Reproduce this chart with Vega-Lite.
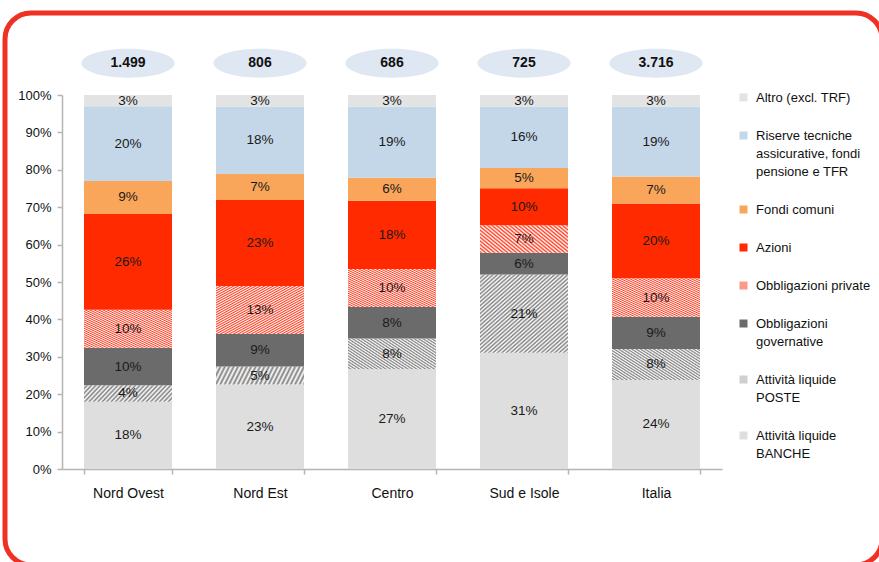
{
  "$schema": "https://vega.github.io/schema/vega-lite/v6.json",
  "autosize": "none",
  "width": 877,
  "height": 552,
  "padding": {"left": 5, "top": 13, "right": 0, "bottom": 0},
  "background": "#ffffff",
  "config": {
    "font": "Liberation Sans",
    "view": {"stroke": "#ee3124", "strokeWidth": 5, "cornerRadius": 26, "fill": null}
  },
  "datasets": {
    "shares": [
      {"region": "Nord Ovest", "cat": "Attività liquide BANCHE", "ord": 1, "value": 0.180},
      {"region": "Nord Ovest", "cat": "Attività liquide POSTE", "ord": 2, "value": 0.044},
      {"region": "Nord Ovest", "cat": "Obbligazioni governative", "ord": 3, "value": 0.100},
      {"region": "Nord Ovest", "cat": "Obbligazioni private", "ord": 4, "value": 0.102},
      {"region": "Nord Ovest", "cat": "Azioni", "ord": 5, "value": 0.256},
      {"region": "Nord Ovest", "cat": "Fondi comuni", "ord": 6, "value": 0.088},
      {"region": "Nord Ovest", "cat": "Riserve tecniche assicurative, fondi pensione e TFR", "ord": 7, "value": 0.200},
      {"region": "Nord Ovest", "cat": "Altro (excl. TRF)", "ord": 8, "value": 0.030},
      {"region": "Nord Est", "cat": "Attività liquide BANCHE", "ord": 1, "value": 0.226},
      {"region": "Nord Est", "cat": "Attività liquide POSTE", "ord": 2, "value": 0.048},
      {"region": "Nord Est", "cat": "Obbligazioni governative", "ord": 3, "value": 0.087},
      {"region": "Nord Est", "cat": "Obbligazioni private", "ord": 4, "value": 0.128},
      {"region": "Nord Est", "cat": "Azioni", "ord": 5, "value": 0.230},
      {"region": "Nord Est", "cat": "Fondi comuni", "ord": 6, "value": 0.070},
      {"region": "Nord Est", "cat": "Riserve tecniche assicurative, fondi pensione e TFR", "ord": 7, "value": 0.180},
      {"region": "Nord Est", "cat": "Altro (excl. TRF)", "ord": 8, "value": 0.031},
      {"region": "Centro", "cat": "Attività liquide BANCHE", "ord": 1, "value": 0.267},
      {"region": "Centro", "cat": "Attività liquide POSTE", "ord": 2, "value": 0.082},
      {"region": "Centro", "cat": "Obbligazioni governative", "ord": 3, "value": 0.084},
      {"region": "Centro", "cat": "Obbligazioni private", "ord": 4, "value": 0.102},
      {"region": "Centro", "cat": "Azioni", "ord": 5, "value": 0.182},
      {"region": "Centro", "cat": "Fondi comuni", "ord": 6, "value": 0.062},
      {"region": "Centro", "cat": "Riserve tecniche assicurative, fondi pensione e TFR", "ord": 7, "value": 0.190},
      {"region": "Centro", "cat": "Altro (excl. TRF)", "ord": 8, "value": 0.031},
      {"region": "Sud e Isole", "cat": "Attività liquide BANCHE", "ord": 1, "value": 0.311},
      {"region": "Sud e Isole", "cat": "Attività liquide POSTE", "ord": 2, "value": 0.209},
      {"region": "Sud e Isole", "cat": "Obbligazioni governative", "ord": 3, "value": 0.058},
      {"region": "Sud e Isole", "cat": "Obbligazioni private", "ord": 4, "value": 0.074},
      {"region": "Sud e Isole", "cat": "Azioni", "ord": 5, "value": 0.099},
      {"region": "Sud e Isole", "cat": "Fondi comuni", "ord": 6, "value": 0.054},
      {"region": "Sud e Isole", "cat": "Riserve tecniche assicurative, fondi pensione e TFR", "ord": 7, "value": 0.164},
      {"region": "Sud e Isole", "cat": "Altro (excl. TRF)", "ord": 8, "value": 0.031},
      {"region": "Italia", "cat": "Attività liquide BANCHE", "ord": 1, "value": 0.238},
      {"region": "Italia", "cat": "Attività liquide POSTE", "ord": 2, "value": 0.083},
      {"region": "Italia", "cat": "Obbligazioni governative", "ord": 3, "value": 0.086},
      {"region": "Italia", "cat": "Obbligazioni private", "ord": 4, "value": 0.103},
      {"region": "Italia", "cat": "Azioni", "ord": 5, "value": 0.200},
      {"region": "Italia", "cat": "Fondi comuni", "ord": 6, "value": 0.072},
      {"region": "Italia", "cat": "Riserve tecniche assicurative, fondi pensione e TFR", "ord": 7, "value": 0.187},
      {"region": "Italia", "cat": "Altro (excl. TRF)", "ord": 8, "value": 0.031}
    ],
    "totals": [
      {"region": "Nord Ovest", "total": "1.499"},
      {"region": "Nord Est", "total": "806"},
      {"region": "Centro", "total": "686"},
      {"region": "Sud e Isole", "total": "725"},
      {"region": "Italia", "total": "3.716"}
    ]
  },
  "layer": [
    {
      "data": {"name": "shares"},
      "mark": {"type": "bar", "strokeWidth": 0},
      "encoding": {
        "x": {
          "field": "region", "type": "nominal", "sort": null,
          "scale": {"domain": ["Nord Ovest", "Nord Est", "Centro", "Sud e Isole", "Italia"], "range": [57, 717], "paddingInner": 0.3333, "paddingOuter": 0.1667},
          "axis": {"orient": "bottom", "offset": -96, "title": null, "labelAngle": 0, "tickBand": "extent", "labelFontSize": 14, "labelColor": "#111111", "labelPadding": 12, "domainColor": "#b4b4b4", "domainWidth": 1.5, "tickColor": "#b4b4b4", "tickSize": 5, "tickWidth": 1.5}
        },
        "y": {
          "field": "value", "type": "quantitative", "stack": "zero",
          "scale": {"domain": [0, 1], "range": [456, 82], "nice": false, "zero": true},
          "axis": {"orient": "left", "offset": -57, "title": null, "grid": false, "values": [0, 0.1, 0.2, 0.3, 0.4, 0.5, 0.6, 0.7, 0.8, 0.9, 1], "format": ".0%", "labelFontSize": 13, "labelColor": "#111111", "labelPadding": 6, "domainColor": "#b4b4b4", "domainWidth": 1.5, "tickColor": "#b4b4b4", "tickSize": 5, "tickWidth": 1.5}
        },
        "order": {"field": "ord", "type": "quantitative", "sort": "ascending"},
        "color": {
          "field": "cat", "type": "nominal",
          "scale": {
            "domain": ["Altro (excl. TRF)", "Riserve tecniche assicurative, fondi pensione e TFR", "Fondi comuni", "Azioni", "Obbligazioni private", "Obbligazioni governative", "Attività liquide POSTE", "Attività liquide BANCHE"],
            "range": ["#e3e3e3", "#c4d7e8", "#f9a65a", "#ff2a00", "#fb9a88", "#6b6b6b", "#cfcfcf", "#dedede"]
          },
          "legend": {
            "orient": "none", "legendX": 732, "legendY": 78, "title": null,
            "symbolType": "square", "symbolSize": 64, "symbolStrokeWidth": 0,
            "labelFontSize": 13, "labelColor": "#111111", "labelLimit": 200, "labelOffset": 6,
            "rowPadding": 24,
            "encode": {"labels": {"update": {"lineHeight": {"value": 18}}}},
            "labelExpr": "datum.label == 'Riserve tecniche assicurative, fondi pensione e TFR' ? ['Riserve tecniche', 'assicurative, fondi', 'pensione e TFR'] : datum.label == 'Obbligazioni governative' ? ['Obbligazioni', 'governative'] : datum.label == 'Attività liquide POSTE' ? ['Attività liquide', 'POSTE'] : datum.label == 'Attività liquide BANCHE' ? ['Attività liquide', 'BANCHE'] : datum.label"
          },
          "condition": [
            {"test": "datum.cat === 'Obbligazioni private'", "value": {"gradient": "linear", "x1": 0, "y1": 0, "x2": 1, "y2": 1, "stops": [
              {"offset": 0, "color": "#ff3b1f"}, {"offset": 0.0125, "color": "#ffffff"}, {"offset": 0.025, "color": "#ff3b1f"}, {"offset": 0.0375, "color": "#ffffff"},
              {"offset": 0.05, "color": "#ff3b1f"}, {"offset": 0.0625, "color": "#ffffff"}, {"offset": 0.075, "color": "#ff3b1f"}, {"offset": 0.0875, "color": "#ffffff"},
              {"offset": 0.1, "color": "#ff3b1f"}, {"offset": 0.1125, "color": "#ffffff"}, {"offset": 0.125, "color": "#ff3b1f"}, {"offset": 0.1375, "color": "#ffffff"},
              {"offset": 0.15, "color": "#ff3b1f"}, {"offset": 0.1625, "color": "#ffffff"}, {"offset": 0.175, "color": "#ff3b1f"}, {"offset": 0.1875, "color": "#ffffff"},
              {"offset": 0.2, "color": "#ff3b1f"}, {"offset": 0.2125, "color": "#ffffff"}, {"offset": 0.225, "color": "#ff3b1f"}, {"offset": 0.2375, "color": "#ffffff"},
              {"offset": 0.25, "color": "#ff3b1f"}, {"offset": 0.2625, "color": "#ffffff"}, {"offset": 0.275, "color": "#ff3b1f"}, {"offset": 0.2875, "color": "#ffffff"},
              {"offset": 0.3, "color": "#ff3b1f"}, {"offset": 0.3125, "color": "#ffffff"}, {"offset": 0.325, "color": "#ff3b1f"}, {"offset": 0.3375, "color": "#ffffff"},
              {"offset": 0.35, "color": "#ff3b1f"}, {"offset": 0.3625, "color": "#ffffff"}, {"offset": 0.375, "color": "#ff3b1f"}, {"offset": 0.3875, "color": "#ffffff"},
              {"offset": 0.4, "color": "#ff3b1f"}, {"offset": 0.4125, "color": "#ffffff"}, {"offset": 0.425, "color": "#ff3b1f"}, {"offset": 0.4375, "color": "#ffffff"},
              {"offset": 0.45, "color": "#ff3b1f"}, {"offset": 0.4625, "color": "#ffffff"}, {"offset": 0.475, "color": "#ff3b1f"}, {"offset": 0.4875, "color": "#ffffff"},
              {"offset": 0.5, "color": "#ff3b1f"}, {"offset": 0.5125, "color": "#ffffff"}, {"offset": 0.525, "color": "#ff3b1f"}, {"offset": 0.5375, "color": "#ffffff"},
              {"offset": 0.55, "color": "#ff3b1f"}, {"offset": 0.5625, "color": "#ffffff"}, {"offset": 0.575, "color": "#ff3b1f"}, {"offset": 0.5875, "color": "#ffffff"},
              {"offset": 0.6, "color": "#ff3b1f"}, {"offset": 0.6125, "color": "#ffffff"}, {"offset": 0.625, "color": "#ff3b1f"}, {"offset": 0.6375, "color": "#ffffff"},
              {"offset": 0.65, "color": "#ff3b1f"}, {"offset": 0.6625, "color": "#ffffff"}, {"offset": 0.675, "color": "#ff3b1f"}, {"offset": 0.6875, "color": "#ffffff"},
              {"offset": 0.7, "color": "#ff3b1f"}, {"offset": 0.7125, "color": "#ffffff"}, {"offset": 0.725, "color": "#ff3b1f"}, {"offset": 0.7375, "color": "#ffffff"},
              {"offset": 0.75, "color": "#ff3b1f"}, {"offset": 0.7625, "color": "#ffffff"}, {"offset": 0.775, "color": "#ff3b1f"}, {"offset": 0.7875, "color": "#ffffff"},
              {"offset": 0.8, "color": "#ff3b1f"}, {"offset": 0.8125, "color": "#ffffff"}, {"offset": 0.825, "color": "#ff3b1f"}, {"offset": 0.8375, "color": "#ffffff"},
              {"offset": 0.85, "color": "#ff3b1f"}, {"offset": 0.8625, "color": "#ffffff"}, {"offset": 0.875, "color": "#ff3b1f"}, {"offset": 0.8875, "color": "#ffffff"},
              {"offset": 0.9, "color": "#ff3b1f"}, {"offset": 0.9125, "color": "#ffffff"}, {"offset": 0.925, "color": "#ff3b1f"}, {"offset": 0.9375, "color": "#ffffff"},
              {"offset": 0.95, "color": "#ff3b1f"}, {"offset": 0.9625, "color": "#ffffff"}, {"offset": 0.975, "color": "#ff3b1f"}, {"offset": 0.9875, "color": "#ffffff"},
              {"offset": 1, "color": "#ff3b1f"}
            ]}},
            {"test": "datum.cat === 'Attività liquide POSTE'", "value": {"gradient": "linear", "x1": 0, "y1": 0, "x2": 1, "y2": 1, "stops": [
              {"offset": 0, "color": "#808080"}, {"offset": 0.0125, "color": "#ffffff"}, {"offset": 0.025, "color": "#808080"}, {"offset": 0.0375, "color": "#ffffff"},
              {"offset": 0.05, "color": "#808080"}, {"offset": 0.0625, "color": "#ffffff"}, {"offset": 0.075, "color": "#808080"}, {"offset": 0.0875, "color": "#ffffff"},
              {"offset": 0.1, "color": "#808080"}, {"offset": 0.1125, "color": "#ffffff"}, {"offset": 0.125, "color": "#808080"}, {"offset": 0.1375, "color": "#ffffff"},
              {"offset": 0.15, "color": "#808080"}, {"offset": 0.1625, "color": "#ffffff"}, {"offset": 0.175, "color": "#808080"}, {"offset": 0.1875, "color": "#ffffff"},
              {"offset": 0.2, "color": "#808080"}, {"offset": 0.2125, "color": "#ffffff"}, {"offset": 0.225, "color": "#808080"}, {"offset": 0.2375, "color": "#ffffff"},
              {"offset": 0.25, "color": "#808080"}, {"offset": 0.2625, "color": "#ffffff"}, {"offset": 0.275, "color": "#808080"}, {"offset": 0.2875, "color": "#ffffff"},
              {"offset": 0.3, "color": "#808080"}, {"offset": 0.3125, "color": "#ffffff"}, {"offset": 0.325, "color": "#808080"}, {"offset": 0.3375, "color": "#ffffff"},
              {"offset": 0.35, "color": "#808080"}, {"offset": 0.3625, "color": "#ffffff"}, {"offset": 0.375, "color": "#808080"}, {"offset": 0.3875, "color": "#ffffff"},
              {"offset": 0.4, "color": "#808080"}, {"offset": 0.4125, "color": "#ffffff"}, {"offset": 0.425, "color": "#808080"}, {"offset": 0.4375, "color": "#ffffff"},
              {"offset": 0.45, "color": "#808080"}, {"offset": 0.4625, "color": "#ffffff"}, {"offset": 0.475, "color": "#808080"}, {"offset": 0.4875, "color": "#ffffff"},
              {"offset": 0.5, "color": "#808080"}, {"offset": 0.5125, "color": "#ffffff"}, {"offset": 0.525, "color": "#808080"}, {"offset": 0.5375, "color": "#ffffff"},
              {"offset": 0.55, "color": "#808080"}, {"offset": 0.5625, "color": "#ffffff"}, {"offset": 0.575, "color": "#808080"}, {"offset": 0.5875, "color": "#ffffff"},
              {"offset": 0.6, "color": "#808080"}, {"offset": 0.6125, "color": "#ffffff"}, {"offset": 0.625, "color": "#808080"}, {"offset": 0.6375, "color": "#ffffff"},
              {"offset": 0.65, "color": "#808080"}, {"offset": 0.6625, "color": "#ffffff"}, {"offset": 0.675, "color": "#808080"}, {"offset": 0.6875, "color": "#ffffff"},
              {"offset": 0.7, "color": "#808080"}, {"offset": 0.7125, "color": "#ffffff"}, {"offset": 0.725, "color": "#808080"}, {"offset": 0.7375, "color": "#ffffff"},
              {"offset": 0.75, "color": "#808080"}, {"offset": 0.7625, "color": "#ffffff"}, {"offset": 0.775, "color": "#808080"}, {"offset": 0.7875, "color": "#ffffff"},
              {"offset": 0.8, "color": "#808080"}, {"offset": 0.8125, "color": "#ffffff"}, {"offset": 0.825, "color": "#808080"}, {"offset": 0.8375, "color": "#ffffff"},
              {"offset": 0.85, "color": "#808080"}, {"offset": 0.8625, "color": "#ffffff"}, {"offset": 0.875, "color": "#808080"}, {"offset": 0.8875, "color": "#ffffff"},
              {"offset": 0.9, "color": "#808080"}, {"offset": 0.9125, "color": "#ffffff"}, {"offset": 0.925, "color": "#808080"}, {"offset": 0.9375, "color": "#ffffff"},
              {"offset": 0.95, "color": "#808080"}, {"offset": 0.9625, "color": "#ffffff"}, {"offset": 0.975, "color": "#808080"}, {"offset": 0.9875, "color": "#ffffff"},
              {"offset": 1, "color": "#808080"}
            ]}}
          ]
        }
      }
    },
    {
      "data": {"name": "shares"},
      "mark": {"type": "text", "fontSize": 13.5, "color": "#1a1a1a", "baseline": "middle", "align": "center"},
      "encoding": {
        "x": {"field": "region", "type": "nominal", "sort": null, "scale": {"domain": ["Nord Ovest", "Nord Est", "Centro", "Sud e Isole", "Italia"], "range": [57, 717], "paddingInner": 0.3333, "paddingOuter": 0.1667}},
        "y": {"field": "value", "type": "quantitative", "stack": "zero", "bandPosition": 0.5, "scale": {"domain": [0, 1], "range": [456, 82], "nice": false, "zero": true}},
        "order": {"field": "ord", "type": "quantitative", "sort": "ascending"},
        "detail": {"field": "cat", "type": "nominal"},
        "text": {"field": "value", "type": "quantitative", "format": ".0%"}
      }
    },
    {
      "data": {"name": "totals"},
      "mark": {"type": "point", "filled": true, "shape": "M-1,0A1,0.31,0,1,1,1,0A1,0.31,0,1,1,-1,0Z", "size": 8650, "color": "#dfe7f2", "opacity": 1, "strokeWidth": 0},
      "encoding": {
        "x": {"field": "region", "type": "nominal", "sort": null},
        "y": {"datum": 1.085, "type": "quantitative"}
      }
    },
    {
      "data": {"name": "totals"},
      "mark": {"type": "text", "fontSize": 14, "fontWeight": "bold", "color": "#111111", "baseline": "middle", "align": "center"},
      "encoding": {
        "x": {"field": "region", "type": "nominal", "sort": null},
        "y": {"datum": 1.085, "type": "quantitative"},
        "text": {"field": "total", "type": "nominal"}
      }
    }
  ]
}
